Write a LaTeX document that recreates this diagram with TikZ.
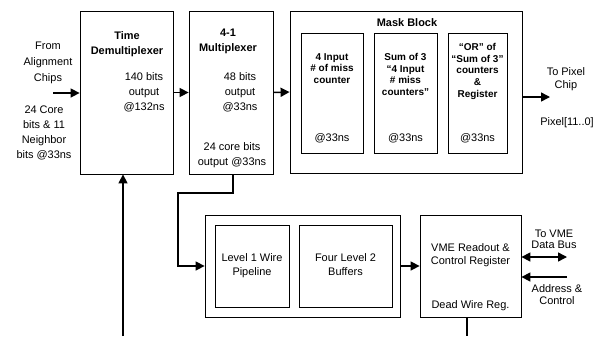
\documentclass[tikz,border=0pt]{standalone}
\usepackage{fontspec}
\setmainfont{Liberation Sans}
\usetikzlibrary{arrows.meta}

\begin{document}
\begin{tikzpicture}[x=1bp, y=-1bp,
  blk/.style={draw, line width=0.8pt, inner sep=0pt},
  sig/.style={line width=1.5pt, -{Triangle[length=9bp,width=9bp]}},
  dsig/.style={line width=1.5pt, {Triangle[length=9bp,width=9bp]}-{Triangle[length=9bp,width=9bp]}},
  txt/.style={align=center, inner sep=0pt, anchor=north, font=\fontsize{11}{15}\selectfont},
  hdr/.style={align=center, inner sep=0pt, anchor=north, font=\fontsize{11}{15}\selectfont\bfseries},
  sub/.style={align=center, inner sep=0pt, anchor=north, font=\fontsize{10}{11.7}\selectfont\bfseries}
]
\useasboundingbox (0,0) rectangle (597,336);

% ---- upper blocks ----
\node[blk, minimum width=93bp, minimum height=163bp] (demux) at (126.5,92.5) {};
\node[blk, minimum width=84bp, minimum height=163bp] (mux) at (231,92.5) {};
\node[blk, minimum width=232bp, minimum height=162bp] (mask) at (406,92) {};

% ---- mask sub blocks ----
\foreach \nm/\cx/\bw in {maskA/332/62, maskB/405.5/63, maskC/477.5/59} {
    \node[blk, minimum width=\bw bp, minimum height=120bp] (\nm) at (\cx,93) {};
    \node[txt] (\nm rate) at ([yshift=20bp]\nm.south) {@33ns};
}

% ---- lower blocks ----
\node[blk, minimum width=195bp, minimum height=102bp] (pipe) at (302.5,266) {};
\node[blk, minimum width=74bp, minimum height=82bp] (lvlone) at (252,266) {};
\node[blk, minimum width=93bp, minimum height=82bp] (lvltwo) at (345.5,266) {};
\node[blk, minimum width=101bp, minimum height=102bp] (vme) at (470.5,266) {};

% ---- texts ----
\node[txt, font=\fontsize{11}{16}\selectfont] (fromtxt) at (48,42) {From\\Alignment\\Chips};
\node[txt] (coretxt) at (44,106) {24 Core\\bits \& 11\\Neighbor\\bits @33ns};
\node[hdr] (demuxhdr) at (127,31) {Time\\Demultiplexer};
\node[txt] (demuxout) at (144,72) {140 bits\\output\\@132ns};
\node[hdr] (muxhdr) at (228,29) {4-1\\Multiplexer};
\node[txt] (muxout) at (240,72) {48 bits\\output\\@33ns};
\node[txt] (muxcore) at (232,142) {24 core bits\\output @33ns};
\node[hdr] (maskhdr) at (407,18) {Mask Block};
\node[sub] (maskAtxt) at (332,53) {4 Input\\\# of miss\\counter};
\node[sub] (maskBtxt) at (405.5,53) {Sum of 3\\``4 Input\\\# miss\\counters''};
\node[sub] (maskCtxt) at (477.5,43) {``OR'' of\\``Sum of 3''\\counters\\\&\\Register};
\node[txt, font=\fontsize{11}{13}\selectfont] (pixtxt) at (566,67) {To Pixel\\Chip};
\node[txt] (pixbus) at (567,117) {Pixel[11..0]};
\node[txt, font=\fontsize{11}{14}\selectfont] (lvlonetxt) at (252,253) {Level 1 Wire\\Pipeline};
\node[txt, font=\fontsize{11}{14}\selectfont] (lvltwotxt) at (345.5,253) {Four Level 2\\Buffers};
\node[txt, font=\fontsize{11}{13}\selectfont] (vmetxt) at (470.5,243) {VME Readout \&\\Control Register};
\node[txt] (deadtxt) at (470.5,300) {Dead Wire Reg.};
\node[txt, font=\fontsize{11}{11}\selectfont] (bustxt) at (554,230) {To VME\\Data Bus};
\node[txt, font=\fontsize{11}{12.5}\selectfont] (addrtxt) at (557,284) {Address \&\\Control};

% ---- free ends ----
\coordinate (alignin) at (53,93);
\coordinate (pixout) at (550,97);
\coordinate (botin) at (123,336);
\coordinate (botout) at (467,336);
\coordinate (bendA) at (233,193);
\coordinate (bendB) at (178,193);
\coordinate (busend) at (567,257);
\coordinate (addrend) at (567,277);

% ---- connectors ----
\draw[sig] (alignin) -- (demux.west |- alignin);
\draw[sig] (demux.east) -- (mux.west);
\draw[sig] (mux.east) -- (mask.west);
\draw[sig] (mask.east |- pixout) -- (pixout);
\draw[sig] (botin) -- (botin |- demux.south);
\draw[sig] (mux.south -| bendA) -- (bendA) -- (bendB) |- (pipe.west);
\draw[sig] (pipe.east) -- (vme.west);
\draw[dsig] (vme.east |- busend) -- (busend);
\draw[sig] (addrend) -- (vme.east |- addrend);
\draw[line width=1.5pt] (vme.south -| botout) -- (botout);
\end{tikzpicture}
\end{document}
